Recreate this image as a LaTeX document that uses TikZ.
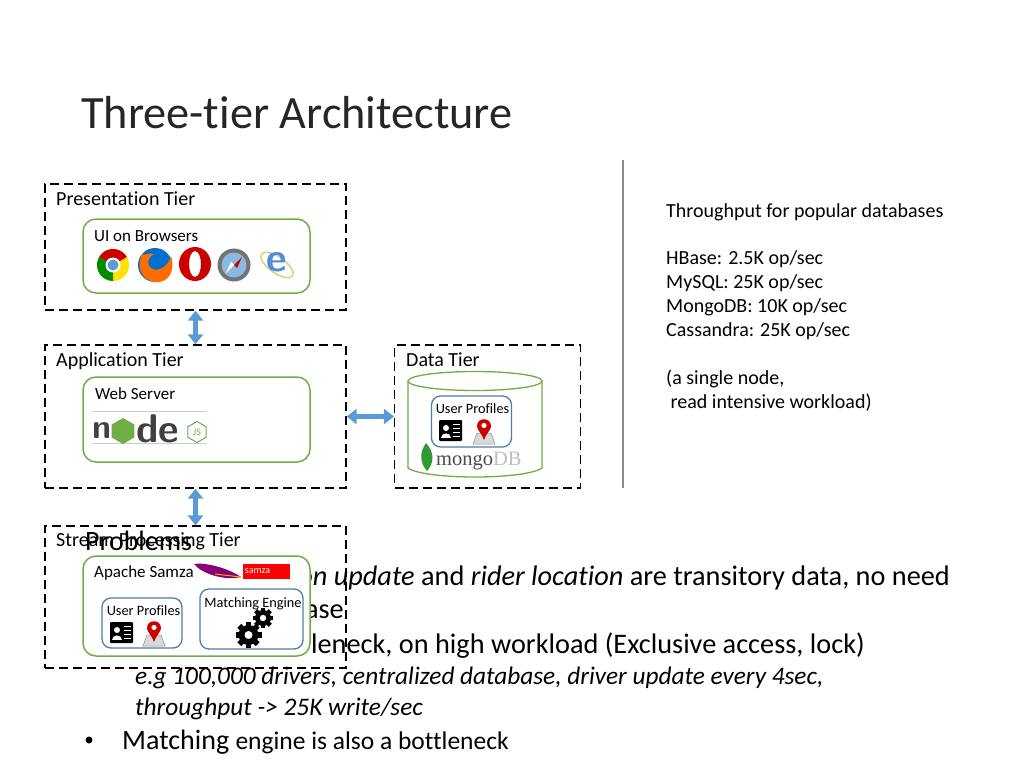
\documentclass[tikz,border=0pt]{standalone}
\usepackage{fontspec}
\setmainfont[Ligatures=NoCommon]{Carlito}
\usepackage{tikz}
\usetikzlibrary{arrows.meta,shapes.geometric,positioning}
\definecolor{tiergreen}{HTML}{70AD47}
\definecolor{boxblue}{HTML}{4F7CA8}
\definecolor{arrowblue}{HTML}{5B9BD5}
\newcommand{\fs}[1]{\fontsize{#1}{#1}\selectfont}
\tikzset{
  tierbox/.style={draw=black,line width=1.4pt,dash pattern=on 9pt off 5pt,inner sep=0pt},
  greenbox/.style={draw=tiergreen,line width=1.5pt,fill=white,rounded corners=13pt,inner sep=0pt},
  bluebox/.style={draw=boxblue,line width=1.3pt,fill=white,rounded corners=9pt,inner sep=0pt},
  biarrow/.style={arrowblue,line width=4.5pt,{Triangle[length=10pt,width=15pt]}-{Triangle[length=10pt,width=15pt]}},
  lbl/.style={anchor=west,inner sep=0pt,text=black},
  cardicon/.pic={
    \fill[black,rounded corners=1pt] (0,0) rectangle (23,21);
    \fill[white] (7,8) circle (3pt);
    \fill[white] (2,18) .. controls (2,12) and (12,12) .. (12,18) -- cycle;
    \foreach \ly in {4,8,12,16} \draw[white,line width=1pt] (14,\ly) -- (21,\ly);
  },
  pinicon/.pic={
    \fill[black!15,draw=black!45,line width=.5pt] (-11,22) -- (-7,11) -- (7,11) -- (11,22) -- cycle;
    \fill[red!80!black] (0,18) .. controls (-3,10) and (-7,8) .. (-7,4) .. controls (-7,-5) and (7,-5) .. (7,4) .. controls (7,8) and (3,10) .. (0,18) -- cycle;
    \fill[white] (0,3.5) circle (2.6pt);
  },
  gearicon/.pic={
    \foreach \ga in {0,45,...,135}
      \fill[black,rotate=\ga] (-2.8,-13) rectangle (2.8,13);
    \fill[black] (0,0) circle (10pt);
    \fill[white] (0,0) circle (4pt);
  }
}
\begin{document}
\begin{tikzpicture}[x=1pt,y=-1pt]
\useasboundingbox (0,0) rectangle (1024,768);
% title
\node[lbl,text=black!85] (title) at (81,113) {\fs{46.3}Three-tier Architecture};
% text behind the boxes
\node[lbl] (problems) at (85,541) {\fs{28}Problems};
\node[anchor=east,inner sep=0pt] (lineone) at (950,578) {\fs{28.3}\textit{on update} and \textit{rider location} are transitory data, no need};
\node[anchor=east,inner sep=0pt] (linetwo) at (344,612) {\fs{28.3}ase};
\node[anchor=east,inner sep=0pt] (linethree) at (865,646) {\fs{28.3}leneck, on high workload (Exclusive access, lock)};
\node[lbl] (lineeg) at (135,678) {\fs{25.3}\textit{e.g 100,000 drivers, centralized database, driver update every 4sec,}};
\node[lbl] (linethru) at (135,709) {\fs{25.3}\textit{throughput -> 25K write/sec}};
\fill (89,740) circle (3.5pt);
\node[lbl] (linematch) at (122,742) {\fs{28}Matching \fs{25.5}engine is also a bottleneck};
% separator
\draw[black!45,line width=2.5pt] (623,160) -- (623,488);
% throughput text
\node[lbl,align=left,anchor=north west,font=\fontsize{20}{23.9}\selectfont] (thru) at (666,203) {
Throughput for popular databases\\
\mbox{}\\
HBase: 2.5K op/sec\\
MySQL: 25K op/sec\\
MongoDB: 10K op/sec\\
Cassandra: 25K op/sec\\
\mbox{}\\
(a single node,\\
\ read intensive workload)};
% tiers
\node[tierbox,minimum width=301pt,minimum height=126pt] (pres) at (195.5,247) {};
\node[tierbox,minimum width=301pt,minimum height=143pt] (app) at (195.5,416.5) {};
\node[tierbox,minimum width=186pt,minimum height=143pt,line width=1.1pt] (data) at (487.5,416.5) {};
\node[tierbox,minimum width=301pt,minimum height=142pt,line width=1.1pt] (stream) at (195.5,597) {};
\node[lbl] (preslbl) at (56,199) {\fs{20}Presentation Tier};
\node[lbl] (applbl) at (56,361) {\fs{20}Application Tier};
\node[lbl] (datalbl) at (406,360) {\fs{20}Data Tier};
\node[lbl] (streamlbl) at (56,541) {\fs{20}Stream Processing Tier};
% connectors
\draw[biarrow] (pres.south) -- (app.north);
\draw[biarrow] (app.east) -- (data.west);
\draw[biarrow] (app.south) -- (stream.north);
% browsers
\node[greenbox,minimum width=227pt,minimum height=74pt] (browsers) at (196.5,256) {};
\node[lbl] (uilbl) at (94,236) {\fs{17}UI on Browsers};
\fill[yellow!85!orange] (113,265) circle (16pt);
\fill[red!80!black] (113,265) -- ++(30:16pt) arc (30:150:16pt) -- cycle;
\fill[green!55!black] (113,265) -- ++(150:16pt) arc (150:270:16pt) -- cycle;
\fill[white] (113,265) circle (7.5pt);
\fill[arrowblue] (113,265) circle (5.5pt);
\fill[blue!45!cyan!80!black] (155,265) circle (17pt);
\fill[orange!85!red] (142,254) .. controls (134,272) and (147,284) .. (160,282) .. controls (173,279) and (174,265) .. (171,256) .. controls (168,268) and (155,274) .. (149,266) .. controls (146,261) and (150,256) .. (154,254) .. controls (149,252) and (145,256) .. (142,254) -- cycle;
\fill[red!80!black,even odd rule] (195,264) ellipse (16pt and 17pt) (195,264) ellipse (6pt and 13pt);
\fill[black!55] (234,265) circle (16.5pt);
\fill[arrowblue!70] (234,265) circle (12.5pt);
\fill[white] (234,265) -- (226,273) -- (231,262) -- cycle;
\fill[red!75!black] (234,265) -- (242,257) -- (237,268) -- cycle;
\draw[yellow!70!black!60,line width=1.5pt,rotate around={-35:(277,265)}] (277,265) ellipse (19pt and 8pt);
\node[inner sep=0pt,text=arrowblue!90!blue] (ielogo) at (277,262) {\fs{40}\bfseries\sffamily e};
% web server
\node[greenbox,minimum width=227pt,minimum height=85pt] (web) at (196.5,419.5) {};
\node[lbl] (weblbl) at (95,394) {\fs{17}Web Server};
\draw[black!20,line width=1pt] (92,411) -- (207,411) (92,443) -- (207,443);
\node[lbl,text=black!75] (nodeleft) at (92,431) {\fs{34}\bfseries\sffamily n};
\node[regular polygon,regular polygon sides=6,rotate=30,fill=tiergreen,minimum size=26pt,inner sep=0pt] (nodehex) at (123,431) {};
\node[lbl,text=black!75] (noderight) at (136,429) {\fs{40}\bfseries\sffamily de};
\node[regular polygon,regular polygon sides=6,rotate=30,draw=tiergreen,line width=1pt,minimum size=21pt,inner sep=0pt] (jshex) at (197,432) {};
\node[inner sep=0pt,text=tiergreen] (jslbl) at (197,432) {\fs{10}JS};
% mongodb cylinder
\draw[tiergreen,line width=1.3pt,fill=white] (408,381) -- (408,468) .. controls (425,480) and (525,480) .. (542,468) -- (542,381);
\draw[tiergreen,line width=1.3pt,fill=white] (475,381) ellipse (67pt and 9.5pt);
\node[bluebox,minimum width=80pt,minimum height=51pt] (dbprofiles) at (471.5,421.5) {};
\node[inner sep=0pt] (dbproflbl) at (472.5,409) {\fs{14.3}User Profiles};
\pic (dbcard) at (439,420) {cardicon};
\pic (dbpin) at (484,422) {pinicon};
\fill[green!50!black!80] (426,443) .. controls (419,453) and (420,463) .. (427,471) .. controls (434,463) and (435,453) .. (426,443) -- cycle;
\node[lbl,text=black!70] (mongolbl) at (436,461) {\fs{20.5}\fontspec{Liberation Serif}mongo\textcolor{black!25}{DB}};
% samza
\node[greenbox,minimum width=227pt,minimum height=100pt] (samza) at (196.5,606) {};
\node[lbl] (samzalbl) at (94,572.5) {\fs{17}Apache Samza};
\fill[purple!70!blue] (194,564) .. controls (205,562) and (228,568) .. (241,577) .. controls (225,581) and (202,574) .. (194,564) -- cycle;
\draw[orange!70!yellow,line width=1pt] (215,574) -- (241,577);
\node[fill=red,minimum width=47pt,minimum height=15pt,inner sep=0pt,text=white] (samzalogo) at (266.5,571.5) {\hspace*{-18pt}\fs{10}samza};
\node[bluebox,minimum width=80pt,minimum height=50pt] (profiles) at (142,623) {};
\node[inner sep=0pt] (proflbl) at (143.5,611) {\fs{14.3}User Profiles};
\pic (card) at (110,622) {cardicon};
\pic (pin) at (154,624) {pinicon};
\node[bluebox,minimum width=103pt,minimum height=60pt] (matching) at (251.5,619) {};
\node[inner sep=0pt] (matchlbl) at (253,603.5) {\fs{14.3}Matching Engine};
\pic (gearbig) at (248.5,635) {gearicon};
\pic[scale=.8] (gearsmall) at (263,618) {gearicon};
\end{tikzpicture}
\end{document}
